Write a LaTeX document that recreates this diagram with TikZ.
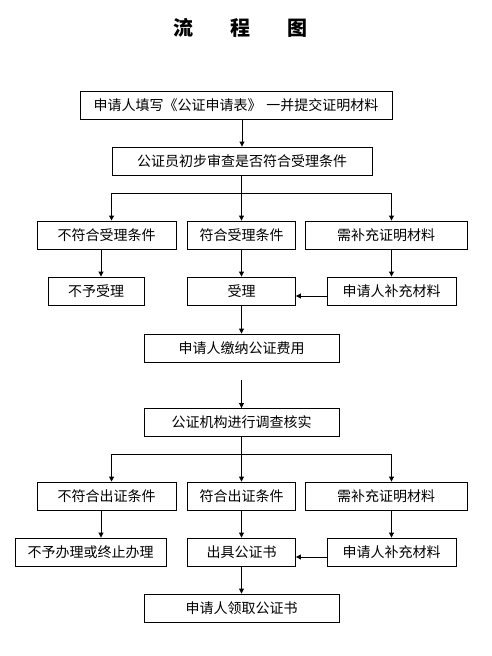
\documentclass[tikz,border=0pt]{standalone}
\usepackage{fontspec}
\usepackage{tikz}
\usetikzlibrary{arrows.meta}
\newfontfamily\cjk{Noto Sans CJK SC}

\begin{document}
\begin{tikzpicture}[x=1pt, y=-1pt,
		box/.style={draw, line width=0.9pt, minimum height=28pt, inner sep=0pt, font=\cjk\fontsize{14pt}{14pt}\selectfont},
		arr/.style={-{Triangle[length=5pt,width=5pt]}, line width=0.9pt},
		ln/.style={line width=0.9pt}]
				\useasboundingbox (0,0) rectangle (491,656);
				
				% Title
				\node (title) at (240,28) {\cjk\fontsize{20pt}{20pt}\selectfont\bfseries 流\hspace{37pt}程\hspace{37pt}图};
				
				% Application and first check
				\node[box, minimum width=312pt] (apply) at (236,105) {申请人填写《公证申请表》\hspace{5pt}一并提交证明材料};
				\node[box, minimum width=260pt] (check) at (242,161) {公证员初步审查是否符合受理条件};
				
				% First row of results
				\node[box, minimum width=139pt] (nofit1) at (106.5,235) {不符合受理条件};
				\node[box, minimum width=108pt] (fit1) at (241.5,235) {符合受理条件};
				\node[box, minimum width=162pt] (more1) at (386,235) {需补充证明材料};
				
				\node[box, minimum width=96pt] (refuse) at (96,291) {不予受理};
				\node[box, minimum width=108pt] (accept) at (241.5,291) {受理};
				\node[box, minimum width=129pt] (supply1) at (391.5,291) {申请人补充材料};
				
				% Fee and investigation
				\node[box, minimum width=195pt] (fee) at (241.5,348) {申请人缴纳公证费用};
				\coordinate (gap) at (241.5,380);
				\node[box, minimum width=195pt] (inquire) at (241.5,422.5) {公证机构进行调查核实};
				
				% Second row of results
				\node[box, minimum width=139pt] (nofit2) at (106.5,496) {不符合出证条件};
				\node[box, minimum width=108pt] (fit2) at (241.5,496) {符合出证条件};
				\node[box, minimum width=162pt] (more2) at (386,496) {需补充证明材料};
				
				\node[box, minimum width=151pt] (stop) at (90.5,552) {不予办理或终止办理};
				\node[box, minimum width=108pt] (issue) at (241.5,552) {出具公证书};
				\node[box, minimum width=129pt] (supply2) at (391.5,552) {申请人补充材料};
				
				\node[box, minimum width=195pt] (collect) at (241.5,608) {申请人领取公证书};
				
				% Branch points
				\coordinate (split1) at (241.5,193);
				\coordinate (split2) at (241.5,454);
				
				% Upper arrows
				\draw[arr] (apply.south -| check) -- (check.north);
				\draw[ln] (check.south -| split1) -- (split1);
				\draw[arr] (split1) -| (nofit1.north -| check.west);
				\draw[arr] (split1) -- (fit1.north);
				\draw[arr] (split1) -| (more1.north -| supply1);
				\draw[arr] ([xshift=-5.5pt]nofit1.south) -- ([xshift=5pt]refuse.north);
				\draw[arr] (fit1.south) -- (accept.north);
				\draw[arr] (more1.south -| supply1) -- (supply1.north);
				\draw[arr] ([yshift=-5pt]supply1.west) -- ([yshift=-5pt]accept.east);
				\draw[arr] (accept.south) -- (fee.north);
				
				% Lower arrows
				\draw[arr] (gap) -- (inquire.north);
				\draw[ln] (inquire.south) -- (split2);
				\draw[arr] (split2) -| (nofit2.north -| check.west);
				\draw[arr] (split2) -- (fit2.north);
				\draw[arr] (split2) -| (more2.north -| supply2);
				\draw[arr] ([xshift=-5.5pt]nofit2.south) -- ([xshift=10.5pt]stop.north);
				\draw[arr] (fit2.south) -- (issue.north);
				\draw[arr] (more2.south -| supply2) -- (supply2.north);
				\draw[arr] ([yshift=-5pt]supply2.west) -- ([yshift=-5pt]issue.east);
				\draw[arr] (issue.south) -- (collect.north);
			\end{tikzpicture}
\end{document}
